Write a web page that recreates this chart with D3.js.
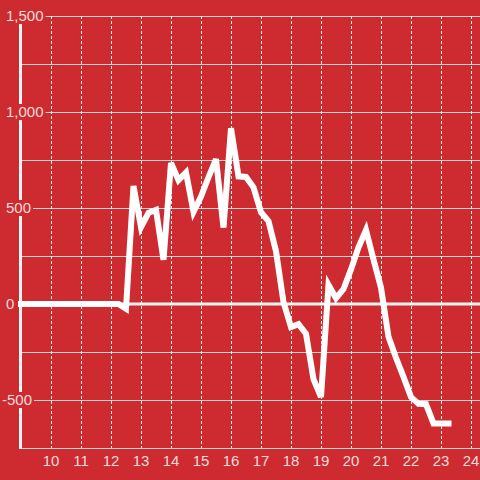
<!DOCTYPE html>
<html lang="en">
<head>
    <meta charset="UTF-8">
    <title>Line chart</title>
    <script src="https://d3js.org/d3.v7.min.js"></script>
    <style>
        body {
            margin: 0;
            padding: 0;
            background-color: #cd2b30;
        }
        svg {
            display: block;
            font-family: "Liberation Sans", Arial, sans-serif;
        }
    </style>
</head>
<body>
    <svg id="chart" width="480" height="480"></svg>

    <script>
        const width = 480;
        const height = 480;
        const bg = '#cd2b30';

        // Hours (every 15 minutes) and values
        const times = d3.range(9, 23.26, 0.25);
        const values = [
            0, 0, 0, 0, 0, 0, 0, 0, 0, 0, 0, 0, 0, 0,
            -25, 615, 400, 475, 490, 230,
            735, 645, 685, 480, 560, 660, 755, 398,
            915, 665, 662, 608, 478, 432, 275, 10,
            -120, -105, -155, -392, -485, 100, 30, 78,
            180, 295, 385, 232, 85, -170, -280, -380,
            -485, -520, -522, -622, -622, -622
        ];
        const yTicks = [1500, 1000, 500, 0, -500];
        const yGrid = d3.range(-750, 1501, 250);
        const xTicks = d3.range(10, 25);

        const data = times.map((t, i) => ({t: t, v: values[i]}));

        const x = d3.scaleLinear().domain([9, 24.3]).range([21, 480]);
        const y = d3.scaleLinear().domain([-750, 1500]).range([448, 16]);

        const svg = d3.select('#chart');

        svg.append('rect')
            .attr('width', width)
            .attr('height', height)
            .attr('fill', bg);

        // Horizontal grid lines
        svg.selectAll('.hgrid')
            .data(yGrid)
            .enter()
            .append('line')
            .attr('x1', x(9))
            .attr('x2', width)
            .attr('y1', d => y(d) + 0.5)
            .attr('y2', d => y(d) + 0.5)
            .attr('stroke', '#d4d4d4')
            .attr('stroke-width', 1);

        // Vertical dashed grid lines
        svg.selectAll('.vgrid')
            .data(xTicks)
            .enter()
            .append('line')
            .attr('x1', d => Math.round(x(d)) + 0.5)
            .attr('x2', d => Math.round(x(d)) + 0.5)
            .attr('y1', y(1500))
            .attr('y2', y(-750))
            .attr('stroke', '#eeeeee')
            .attr('stroke-dasharray', '3,2')
            .attr('stroke-width', 1);

        // Zero line
        svg.append('line')
            .attr('x1', x(9))
            .attr('x2', width)
            .attr('y1', y(0))
            .attr('y2', y(0))
            .attr('stroke', '#f4f4f4')
            .attr('stroke-width', 3);

        // Y axis line
        svg.append('line')
            .attr('x1', 20.5)
            .attr('x2', 20.5)
            .attr('y1', y(1500))
            .attr('y2', y(-750) + 1)
            .attr('stroke', '#f4f4f4')
            .attr('stroke-width', 3);

        // Data line
        const line = d3.line()
            .x(d => x(d.t))
            .y(d => y(d.v));

        svg.append('path')
            .datum(data)
            .attr('d', line)
            .attr('fill', 'none')
            .attr('stroke', '#ffffff')
            .attr('stroke-width', 6)
            .attr('stroke-linecap', 'square')
            .attr('stroke-linejoin', 'miter');

        // Y labels with background
        const fmt = d3.format(',');
        const yLabels = svg.selectAll('.ylab')
            .data(yTicks)
            .enter()
            .append('g');

        yLabels.append('rect')
            .attr('class', 'lbg')
            .attr('fill', bg);

        yLabels.append('text')
            .attr('x', d => d < 0 ? 2 : 6)
            .attr('y', d => y(d))
            .attr('dy', '0.35em')
            .attr('font-size', 15)
            .attr('fill', '#f3dcdc')
            .text(d => fmt(d).replace('−', '-'));

        yLabels.each(function(d) {
            const g = d3.select(this);
            const t = g.select('text');
            const w = t.node().getComputedTextLength();
            const x0 = d < 0 ? 2 : 6;
            g.select('rect')
                .attr('x', 0)
                .attr('y', y(d) - 8)
                .attr('width', x0 + w + 2)
                .attr('height', 16);
        });

        // X labels
        svg.selectAll('.xlab')
            .data(xTicks)
            .enter()
            .append('text')
            .attr('x', d => x(d))
            .attr('y', 461)
            .attr('dy', '0.35em')
            .attr('text-anchor', 'middle')
            .attr('font-size', 15)
            .attr('fill', '#f3dcdc')
            .text(d => d);
    </script>
</body>
</html>
